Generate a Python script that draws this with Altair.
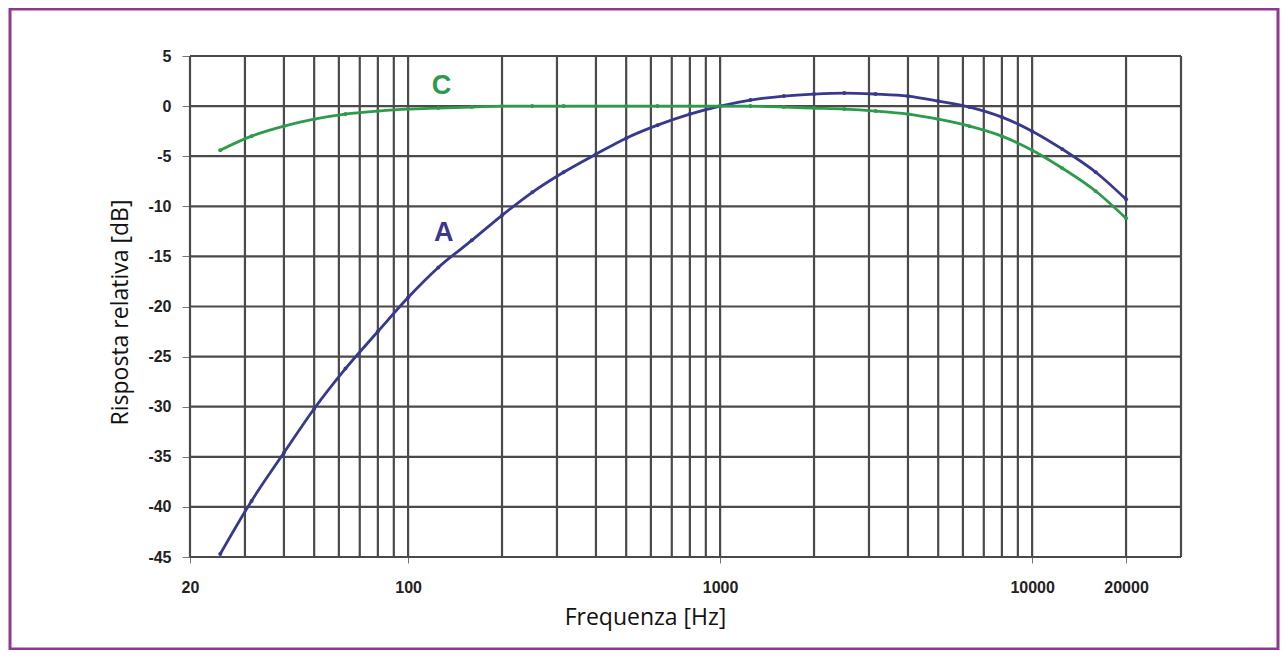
import altair as alt
import pandas as pd

# ---- data ----
freqs = [25, 31.5, 40, 50, 63, 80, 100, 125, 160, 200, 250, 315, 400, 500, 630, 800,
         1000, 1250, 1600, 2000, 2500, 3150, 4000, 5000, 6300, 8000, 10000, 12500, 16000, 20000]
curve_a = [-44.7, -39.4, -34.6, -30.2, -26.2, -22.5, -19.1, -16.1, -13.4, -10.9, -8.6, -6.6,
           -4.8, -3.2, -1.9, -0.8, 0.0, 0.6, 1.0, 1.2, 1.3, 1.2, 1.0, 0.5, -0.1, -1.1, -2.5,
           -4.3, -6.6, -9.3]
curve_c = [-4.4, -3.0, -2.0, -1.3, -0.8, -0.5, -0.3, -0.2, -0.1, 0.0, 0.0, 0.0, 0.0, 0.0,
           0.0, 0.0, 0.0, 0.0, -0.1, -0.2, -0.3, -0.5, -0.8, -1.3, -2.0, -3.0, -4.4, -6.2,
           -8.5, -11.2]
series_names = ["A", "C"]
series_colors = ["#38388F", "#2E9B4A"]

x_tick_values = [20, 100, 1000, 10000, 20000]
y_tick_values = [-45, -40, -35, -30, -25, -20, -15, -10, -5, 0, 5]
v_grid = [20, 30, 40, 50, 60, 70, 80, 90, 100, 200, 300, 400, 500, 600, 700, 800, 900,
          1000, 2000, 3000, 4000, 5000, 6000, 7000, 8000, 9000, 10000, 20000, 30000]
h_grid = y_tick_values

label_text = ["C", "A"]
label_freq = [128, 130]
label_db = [2.0, -12.7]

x_title = "Frequenza [Hz]"
y_title = "Risposta relativa [dB]"

# ---- tables ----
curves = pd.concat([
    pd.DataFrame({"freq": freqs, "db": curve_a, "serie": "A"}),
    pd.DataFrame({"freq": freqs, "db": curve_c, "serie": "C"}),
])
vgrid_df = pd.DataFrame({"freq": v_grid})
hgrid_df = pd.DataFrame({"db": h_grid})
labels_df = pd.DataFrame({"freq": label_freq, "db": label_db, "serie": label_text})

W, H = 991, 501
PAD_L, PAD_T = 182, 48
PAD_R = 1272 - PAD_L - W
PAD_B = 642 - PAD_T - H

x_scale = alt.Scale(type="log", domain=[20, 30000], nice=False)
y_scale = alt.Scale(domain=[-45, 5], nice=False, zero=False)
color_scale = alt.Scale(domain=series_names, range=series_colors)

x_axis = alt.Axis(
    values=x_tick_values, format="d", grid=False, domain=False, labelFlush=False,
    labelFont="Liberation Sans", labelFontWeight="bold", labelFontSize=16,
    labelColor="#222222", labelPadding=16, tickSize=6, tickColor="#777777",
    title=x_title, titleFont="Open Sans", titleFontSize=23, titleFontWeight="normal",
    titleColor="#111111", titleX=455, titleY=60, titleAlign="center",
    titleBaseline="middle", titleAnchor="start",
)
y_axis = alt.Axis(
    values=y_tick_values, labelExpr="toString(datum.value)", grid=False, domain=False,
    labelFlush=False,
    labelFont="Liberation Sans", labelFontWeight="bold", labelFontSize=16,
    labelColor="#222222", labelPadding=11, tickSize=8, tickColor="#777777",
    title=y_title, titleFont="Open Sans", titleFontSize=23, titleFontWeight="normal",
    titleColor="#111111", titleX=-70, titleY=256, titleAngle=-90,
    titleAlign="center", titleBaseline="middle", titleAnchor="start",
)

border = alt.Chart(pd.DataFrame({"k": [0]})).mark_rect(
    fill=None, stroke="#8E3A8C", strokeWidth=3, clip=False
).encode(
    x=alt.value(-PAD_L + 2), x2=alt.value(W + PAD_R - 2),
    y=alt.value(-PAD_T + 1), y2=alt.value(H + PAD_B - 1),
)

hgrid = alt.Chart(hgrid_df).mark_rule(color="#4A4A4A", strokeWidth=2.2).encode(
    y=alt.Y("db:Q", scale=y_scale, axis=y_axis),
)
vgrid = alt.Chart(vgrid_df).mark_rule(color="#4A4A4A", strokeWidth=2.2).encode(
    x=alt.X("freq:Q", scale=x_scale, axis=x_axis),
)

lines = alt.Chart(curves).mark_line(strokeWidth=2.8, interpolate="monotone").encode(
    x=alt.X("freq:Q", scale=x_scale, axis=x_axis),
    y=alt.Y("db:Q", scale=y_scale, axis=y_axis),
    color=alt.Color("serie:N", scale=color_scale, legend=None),
)
dots = alt.Chart(curves).mark_point(filled=True, size=16, opacity=1).encode(
    x=alt.X("freq:Q", scale=x_scale, axis=x_axis),
    y=alt.Y("db:Q", scale=y_scale, axis=y_axis),
    color=alt.Color("serie:N", scale=color_scale, legend=None),
)
texts = alt.Chart(labels_df).mark_text(
    font="Liberation Sans", fontWeight="bold", fontSize=27, align="center", baseline="middle"
).encode(
    x=alt.X("freq:Q", scale=x_scale, axis=x_axis),
    y=alt.Y("db:Q", scale=y_scale, axis=y_axis),
    text="serie:N",
    color=alt.Color("serie:N", scale=color_scale, legend=None),
)

chart = alt.layer(border, hgrid, vgrid, lines, dots, texts).properties(
    width=W, height=H,
    autosize=alt.AutoSizeParams(type="none"),
    padding={"left": PAD_L, "top": PAD_T, "right": PAD_R, "bottom": PAD_B},
    background="white",
).configure_view(stroke=None)

chart.save("out.html", embed_options={"renderer": "svg", "actions": False})
